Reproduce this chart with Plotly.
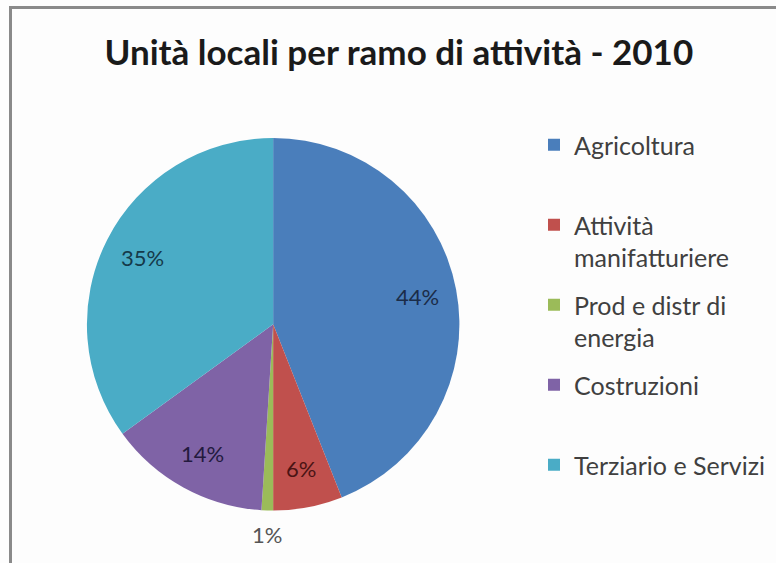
import math
import plotly.graph_objects as go

# Local units by sector of activity, 2010 (percent shares)
categories = [
    "Agricoltura",
    "Attività manifatturiere",
    "Prod e distr di energia",
    "Costruzioni",
    "Terziario e Servizi",
]
legend_names = [
    "Agricoltura<br> ",
    "Attività<br>manifatturiere",
    "Prod e distr di<br>energia",
    "Costruzioni<br> ",
    "Terziario e Servizi<br> ",
]
shares = [44, 6, 1, 14, 35]

slice_colors = ["#4A7EBB", "#C0504D", "#9BBB59", "#7F63A6", "#4AACC6"]
label_colors = ["#1B2C48", "#4A1414", "#555555", "#231A3E", "#153A4A"]
label_outside = [False, False, True, False, False]

W, H = 776, 563
FONT = "Lato, 'Noto Sans', sans-serif"
PIE_X = [0.112, 0.592]
PIE_Y = [0.092, 0.756]

fig = go.Figure()
fig.add_trace(
    go.Pie(
        labels=categories,
        values=shares,
        sort=False,
        direction="clockwise",
        rotation=0,
        marker=dict(colors=slice_colors, line=dict(width=0)),
        textinfo="none",
        domain=dict(x=PIE_X, y=PIE_Y),
        hoverinfo="label+percent",
        showlegend=False,
    )
)

# Legend entries, one group per sector so the entries can be spaced out
for i, (name, color) in enumerate(zip(legend_names, slice_colors)):
    fig.add_trace(
        go.Scatter(
            x=[None],
            y=[None],
            mode="markers",
            marker=dict(symbol="square", size=12, color=color),
            name=name,
            legendgroup=f"g{i}",
            hoverinfo="skip",
        )
    )

# Percentage labels placed along each slice's bisector
cx = (PIE_X[0] + PIE_X[1]) / 2 * W
cy = (1 - (PIE_Y[0] + PIE_Y[1]) / 2) * H
radius = min((PIE_X[1] - PIE_X[0]) * W, (PIE_Y[1] - PIE_Y[0]) * H) / 2
total = sum(shares)
annotations = []
cum = 0.0
for v, col, outside in zip(shares, label_colors, label_outside):
    theta = 2 * math.pi * (cum + v / 2) / total
    cum += v
    f = 1.13 if outside else 0.79
    px = cx + f * radius * math.sin(theta)
    py = cy - f * radius * math.cos(theta)
    annotations.append(
        dict(
            x=px / W,
            y=1 - py / H,
            xref="paper",
            yref="paper",
            text=f"{v}%",
            showarrow=False,
            xanchor="center",
            yanchor="middle",
            font=dict(family=FONT, size=22, color=col),
        )
    )

fig.update_layout(
    width=W,
    height=H,
    margin=dict(l=0, r=0, t=0, b=0),
    paper_bgcolor="#FDFDFD",
    plot_bgcolor="#FDFDFD",
    xaxis=dict(visible=False),
    yaxis=dict(visible=False),
    title=dict(
        text="<b>Unità locali per ramo di attività - 2010</b>",
        x=0.514,
        xanchor="center",
        y=1 - 53 / H,
        yanchor="middle",
        font=dict(family=FONT, size=35, color="#1A1A1A"),
    ),
    legend=dict(
        x=534 / W,
        xanchor="left",
        y=1 - 122 / H,
        yanchor="top",
        font=dict(family=FONT, size=25, color="#404040"),
        bgcolor="rgba(0,0,0,0)",
        itemwidth=30,
        valign="top",
        tracegroupgap=12,
    ),
    annotations=annotations,
    shapes=[
        dict(
            type="rect",
            xref="paper",
            yref="paper",
            x0=10.5 / W,
            x1=1.02,
            y0=-0.02,
            y1=1 - 7.5 / H,
            line=dict(color="#8A8A8A", width=3),
        )
    ],
)

fig.write_html("out.html")
